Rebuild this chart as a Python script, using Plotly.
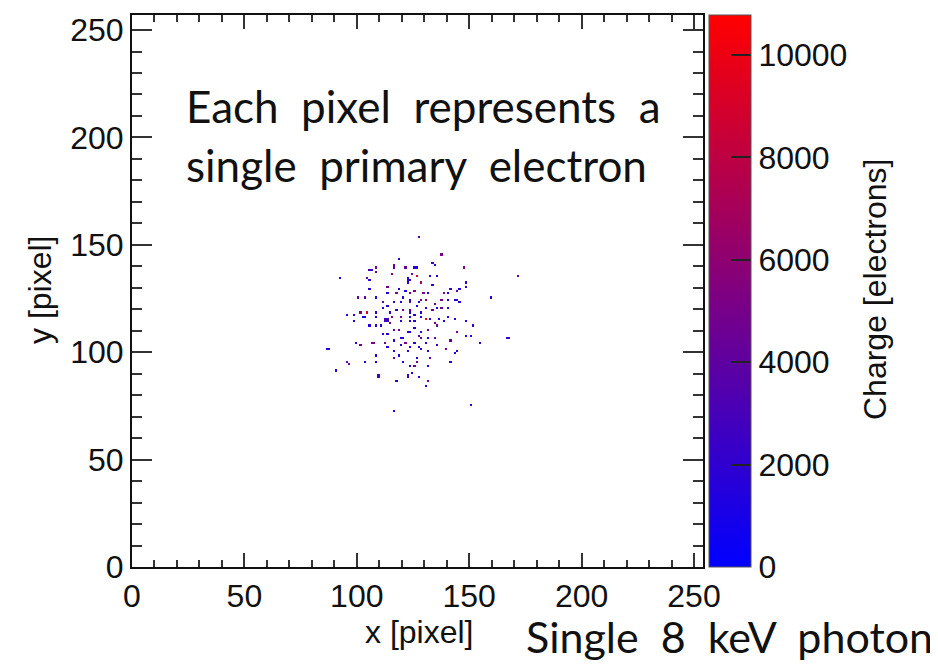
import numpy as np
import plotly.graph_objects as go

# Hit pixels (bin indices) and charge in electrons
hit_x = [127,137,118,133,134,116,116,125,126,121,108,105,106,147,108,115,124,126,132,135,
         92,104,105,122,122,123,122,128,133,148,113,148,105,118,121,125,141,144,145,117,
         113,123,129,131,138,140,100,103,108,120,123,128,130,137,140,143,144,145,159,111,
         116,119,123,127,134,113,111,117,123,126,130,133,135,137,140,101,104,108,114,120,
         123,128,95,98,102,103,108,112,113,112,113,115,119,123,125,128,130,132,136,138,
         140,143,148,98,105,108,110,114,119,123,125,134,135,151,116,118,122,123,125,128,
         131,144,111,113,119,120,127,128,131,134,116,148,150,166,167,99,106,107,112,121,
         125,130,154,141,101,113,119,123,127,135,86,87,128,139,144,116,122,131,108,116,
         118,143,126,95,96,103,108,120,126,132,141,123,125,131,90,109,109,122,122,124,
         127,117,131,130,150,116,171]
hit_y = [153,145,143,141,140,140,139,139,139,139,139,138,138,139,137,136,136,135,135,135,
         134,134,133,134,133,133,132,132,131,132,130,130,129,129,128,128,129,128,129,127,
         127,127,127,127,127,127,125,125,125,125,124,124,124,124,124,124,124,123,125,123,
         123,123,123,123,122,121,120,119,119,121,120,119,120,120,120,118,118,118,118,119,
         118,118,117,117,116,116,116,115,115,114,114,116,116,116,117,116,115,115,115,114,
         116,115,114,114,112,112,112,113,114,114,114,113,112,112,110,110,109,109,111,109,
         110,109,108,108,106,106,107,106,106,106,105,107,107,106,106,104,104,104,104,104,
         104,104,104,105,103,102,103,102,102,103,101,101,101,101,100,100,100,100,98,97,
         98,99,97,95,94,95,95,95,95,97,95,93,93,93,91,89,88,89,88,90,
         88,86,86,84,75,72,135]
hit_charge = [4000,5000,1500,2500,1500,4500,4000,1500,1500,4500,4500,2500,2500,5000,4500,5500,5000,9000,1500,1500,
              1500,4500,1500,1500,1500,2500,1500,7500,1500,2500,5000,1500,1500,1500,1500,5000,2500,4500,1500,6000,
              1500,5000,5000,1500,5500,1500,4000,4000,1500,1500,1500,4500,6000,5000,1500,1500,1500,1500,1500,4500,
              1500,1500,4500,1500,4500,1500,1500,1500,4500,1500,1500,4500,1500,4500,1500,5000,9500,1500,1500,5000,
              1500,1500,1500,1500,1500,1500,1500,3000,3000,3000,2500,5000,5000,1500,1500,1500,10500,1500,1500,1500,
              1500,1500,1500,1500,1500,1500,1500,4500,1500,1500,1500,5000,5000,2500,4500,4500,1500,1500,1500,1500,
              4500,4500,1500,1500,1500,1500,4500,4500,1500,4500,1500,1500,1500,2500,2500,1500,5000,5000,4500,5000,
              1500,1500,1500,4500,4500,1500,1500,1500,1500,1500,1500,1500,1500,4500,1500,1500,1500,1500,1500,4500,
              1500,1500,1500,4500,5000,1500,1500,1500,4500,4500,1500,1500,4500,1500,1500,2500,2500,2500,2500,1500,
              2500,1500,5000,1500,1500,1500,4000]

n_bins = 256
axis_ticks = [0, 50, 100, 150, 200, 250]
charge_ticks = [0, 2000, 4000, 6000, 8000, 10000]
charge_labels = ["0", "2000", "4000", "6000", "8000", "10000"]
charge_max = 10780

grid = np.full((n_bins, n_bins), np.nan)
for bx, by, q in zip(hit_x, hit_y, hit_charge):
    grid[by, bx] = q

tick_font = dict(family="Liberation Sans, Arial, sans-serif", size=32, color="#111")
big_font = dict(family="Lato, Noto Sans, sans-serif", size=44, color="#111")
cap_font = dict(family="Lato, Noto Sans, sans-serif", size=43, color="#111")

fig = go.Figure()
fig.add_trace(go.Heatmap(
    z=grid, x0=0.5, dx=1, y0=0.5, dy=1,
    zmin=0, zmax=charge_max,
    colorscale=[[0, "rgb(0,0,255)"], [1, "rgb(255,0,0)"]],
    hoverongaps=False,
    colorbar=dict(
        x=1.0105, xanchor="left", xpad=0, ypad=0,
        y=0.5, yanchor="middle", len=1.0, lenmode="fraction",
        thickness=42, thicknessmode="pixels",
        outlinecolor="#555", outlinewidth=1,
        tickvals=charge_ticks, ticktext=charge_labels,
        ticks="inside", ticklen=20, tickwidth=2,
        tickcolor="#222", tickfont=tick_font,
    ),
))

axis_common = dict(
    showline=True, linecolor="#111", linewidth=2, mirror="ticks",
    ticks="inside", tickcolor="#333", tickwidth=2,
    tickvals=axis_ticks, tickfont=tick_font,
    showgrid=False, zeroline=False, automargin=False,
)
fig.update_xaxes(range=[0, 254], ticklen=14,
                 minor=dict(dtick=10, tick0=0, ticks="inside", ticklen=7, tickcolor="#333", tickwidth=2),
                 **axis_common)
fig.update_yaxes(range=[0, 257], ticklen=20,
                 minor=dict(dtick=10, tick0=0, ticks="inside", ticklen=10, tickcolor="#333", tickwidth=2),
                 **axis_common)

NB = "\u00a0"
line1 = f"Each{NB} pixel{NB} represents{NB} a"
line2 = f"single{NB} primary{NB} electron"
caption = f"Single{NB} 8{NB} keV{NB} photon"

OFF = 8            # page body margin
W, H = 571, 552    # plot area size
L, T = 132 - OFF, 15 - OFF
def px(xp):
    return (xp - OFF - L) / W
def py(yp):
    return (T + H - (yp - OFF)) / H

annots = [
    dict(text="x [pixel]", x=px(419), y=py(632)),
    dict(text="y [pixel]", x=px(40), y=py(290), textangle=-90),
    dict(text="Charge [electrons]", x=px(875), y=py(290), textangle=-90),
]
for a in annots:
    a.update(xref="paper", yref="paper", xanchor="center", yanchor="middle",
             showarrow=False, font=tick_font)
annots += [
    dict(text=line1, x=px(184), y=py(106), xanchor="left", yanchor="middle", font=big_font),
    dict(text=line2, x=px(184), y=py(165), xanchor="left", yanchor="middle", font=big_font),
    dict(text=caption, x=px(935), y=py(636), xanchor="right", yanchor="middle", font=cap_font),
]
for a in annots[3:]:
    a.update(xref="paper", yref="paper", showarrow=False)

fig.update_layout(
    width=938, height=664, autosize=False,
    margin=dict(l=L, r=938 - L - W, t=T, b=664 - T - H, autoexpand=False),
    paper_bgcolor="white", plot_bgcolor="white",
    annotations=annots,
)
fig.write_html("out.html")
